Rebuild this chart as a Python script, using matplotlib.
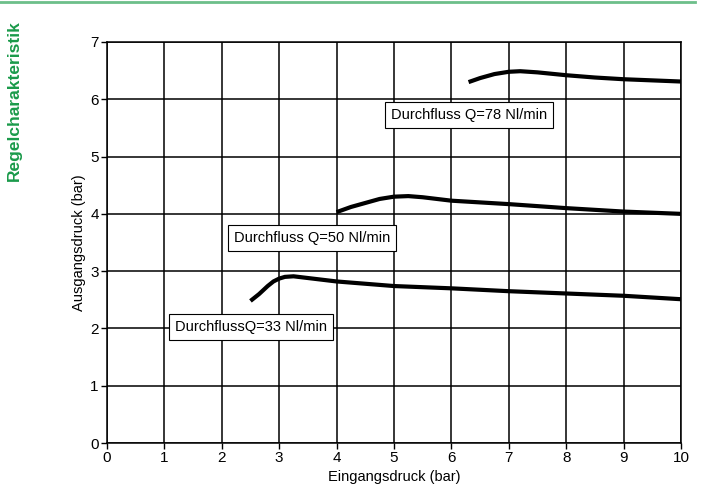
import matplotlib
matplotlib.use("Agg")
import matplotlib.pyplot as plt
from matplotlib.lines import Line2D

plt.rcParams['font.family'] = ['Liberation Sans', 'DejaVu Sans']

# Data
x78 = [6.3, 6.5, 6.75, 7.0, 7.2, 7.5, 8.0, 8.5, 9.0, 9.5, 10.0]
y78 = [6.30, 6.37, 6.44, 6.48, 6.49, 6.47, 6.42, 6.38, 6.35, 6.33, 6.31]

x50 = [4.0, 4.25, 4.5, 4.75, 5.0, 5.25, 5.5, 6.0, 7.0, 8.0, 9.0, 10.0]
y50 = [4.03, 4.12, 4.19, 4.26, 4.30, 4.31, 4.29, 4.23, 4.17, 4.10, 4.04, 4.00]

x33 = [2.5, 2.65, 2.8, 2.9, 3.0, 3.1, 3.25, 3.5, 4.0, 5.0, 6.0, 7.0, 8.0, 9.0, 10.0]
y33 = [2.48, 2.60, 2.74, 2.82, 2.87, 2.90, 2.91, 2.88, 2.82, 2.74, 2.70, 2.65, 2.61, 2.57, 2.51]

labels = ["Durchfluss Q=78 Nl/min", "Durchfluss Q=50 Nl/min", "DurchflussQ=33 Nl/min"]
label_pos = [(6.31, 5.72), (3.57, 3.58), (2.51, 2.02)]

xticks = list(range(0, 11))
yticks = list(range(0, 8))

fig = plt.figure(figsize=(7.02, 4.90), dpi=100)
ax = fig.add_axes([0.1524, 0.0959, 0.8176, 0.8184])

for xs, ys in [(x78, y78), (x50, y50), (x33, y33)]:
    ax.plot(xs, ys, color='black', lw=3.0, solid_capstyle='butt',
            solid_joinstyle='round', zorder=3)

for txt, (tx, ty) in zip(labels, label_pos):
    ax.text(tx, ty, txt, ha='center', va='center', fontsize=10.5, zorder=4,
            bbox=dict(boxstyle='square,pad=0.42', fc='white', ec='black', lw=0.8))

ax.set_xlim(0, 10)
ax.set_ylim(0, 7)
ax.set_xticks(xticks)
ax.set_yticks(yticks)
ax.grid(True, color='black', lw=1.1)
ax.set_axisbelow(True)
for s in ax.spines.values():
    s.set_color('black')
    s.set_linewidth(1.1)
ax.tick_params(direction='out', length=4, width=1.0, labelsize=11, pad=2)
ax.set_xlabel("Eingangsdruck (bar)", fontsize=10.5, labelpad=3)
ax.set_ylabel("Ausgangsdruck (bar)", fontsize=10.5, labelpad=3)

fig.text(0.021, 0.794, "Regelcharakteristik", rotation=90, color='#1a9a4a',
         fontsize=12.5, fontweight='bold', ha='center', va='center')
fig.add_artist(Line2D([0, 0.99], [0.995, 0.995], color='#6dbf8a', lw=2, transform=fig.transFigure))

fig.savefig("out.png", dpi=100)
